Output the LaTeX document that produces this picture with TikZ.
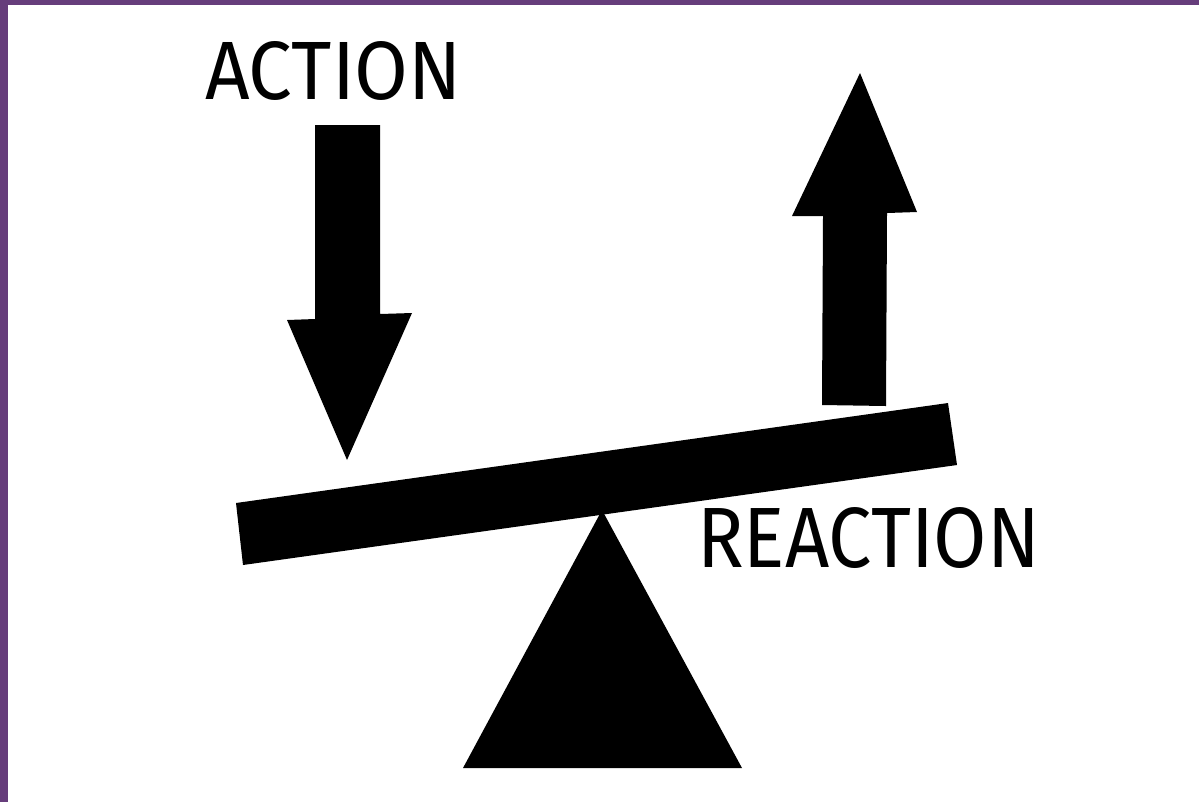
\documentclass[tikz,border=0pt]{standalone}
\usepackage{fontspec}
\setmainfont{Fira Sans}
\usepackage{graphicx}
\usepackage{tikz}
\usetikzlibrary{positioning,calc}
\definecolor{frameViolet}{HTML}{663D7B}
\tikzset{
  sblock/.style={fill=black,draw=none},
  sframe/.style={fill=frameViolet,draw=none},
  sword/.style={inner sep=0pt,font=\mdseries},
}

\begin{document}
\begin{tikzpicture}[x=0.02cm,y=-0.02cm]
\useasboundingbox[fill=white] (0,0) rectangle (1199,802);
% frame
\fill[sframe] (0,0) rectangle (1199,5);
\fill[sframe] (0,0) rectangle (8,802);
% pivot and beam
\fill[sblock] (602,510) -- (742,768) -- (463,768) -- cycle;
\fill[sblock] (236,503) -- (948,403) -- (957,465) -- (243,565) -- cycle;
% down arrow
\fill[sblock] (315,125) -- (380,125) -- (380,314) -- (412,313) -- (347,460)
  -- (287,320) -- (315,319) -- cycle;
% up arrow
\fill[sblock] (860,73) -- (917,212) -- (887,213) -- (886,406) -- (822,405)
  -- (823,216) -- (792,216) -- cycle;
% labels
\node[sword] (action) at (333.5,71) {\resizebox{5.14cm}{1.16cm}{ACTION}};
\node[sword] (reaction) at (868.5,538) {\resizebox{6.86cm}{1.2cm}{REACTION}};
\end{tikzpicture}
\end{document}
